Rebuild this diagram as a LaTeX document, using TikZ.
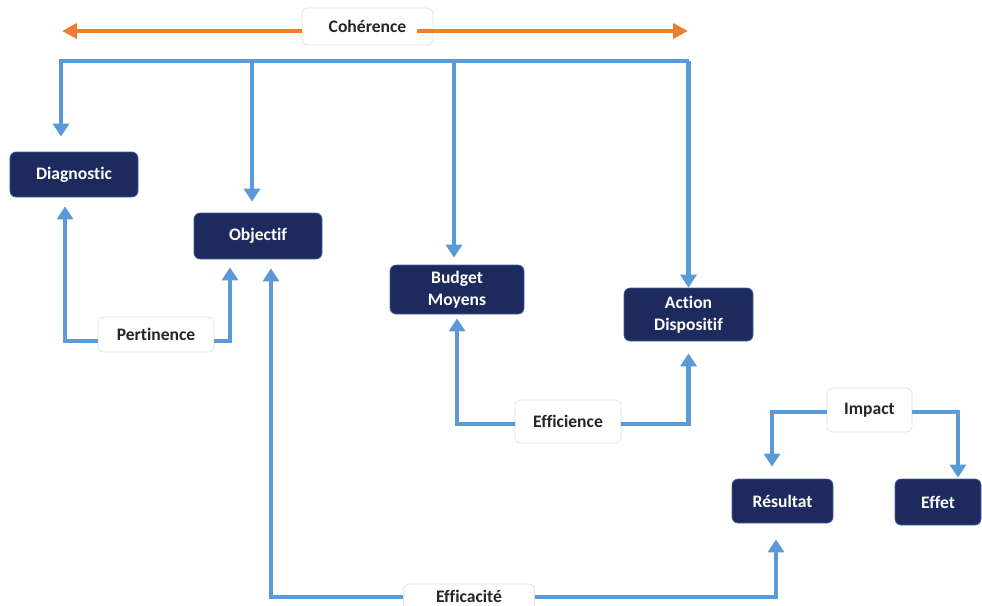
\documentclass[tikz,border=0pt]{standalone}
\usepackage{fontspec}
\setmainfont{Carlito}[Ligatures=NoCommon]
\usetikzlibrary{arrows.meta}

\definecolor{navy}{RGB}{28,42,94}
\definecolor{navyedge}{RGB}{70,100,160}
\definecolor{flowblue}{RGB}{91,155,213}
\definecolor{cohorange}{RGB}{237,125,49}

\begin{document}
\begin{tikzpicture}[x=0.03cm,y=-0.03cm,
  stage/.style={rounded corners=0.18cm, fill=navy, draw=navyedge, line width=0.6pt,
    text=white, font=\bfseries\fontsize{15}{18.5}\selectfont, align=center, inner sep=0pt},
  tag/.style={rounded corners=0.18cm, fill=white, draw=black!12, line width=0.6pt,
    text=black!85, font=\bfseries\fontsize{15}{18.5}\selectfont, inner sep=0pt},
  flow/.style={draw=flowblue, line width=0.135cm, >={Triangle[width=0.48cm,length=0.39cm]}},
  scope arrow/.style={draw=cohorange, line width=0.14cm, >={Triangle[width=0.45cm,length=0.45cm]}}
]
\useasboundingbox (0,0) rectangle (982,605);

% stages
\node[stage, minimum width=3.84cm, minimum height=1.35cm] (diag) at (74,174.5) {Diagnostic};
\node[stage, minimum width=3.84cm, minimum height=1.38cm] (obj)  at (258,236) {Objectif};
\node[stage, minimum width=4.02cm, minimum height=1.47cm] (bud)  at (457,289.5) {Budget\\Moyens};
\node[stage, minimum width=3.87cm, minimum height=1.59cm] (act)  at (688.5,314.5) {Action\\Dispositif};
\node[stage, minimum width=3.03cm, minimum height=1.32cm] (res)  at (782.5,501) {Résultat};
\node[stage, minimum width=2.58cm, minimum height=1.38cm] (eff)  at (938,502) {Effet};

% criteria labels
\node[tag, minimum width=3.93cm, minimum height=1.11cm] (coh)  at (367.5,26.5) {Cohérence};
\node[tag, minimum width=3.48cm, minimum height=1.05cm] (pert) at (156,334.5) {Pertinence};
\node[tag, minimum width=3.18cm, minimum height=1.29cm] (effi) at (568,421.5) {Efficience};
\node[tag, minimum width=2.55cm, minimum height=1.32cm] (imp)  at (869.5,410) {Impact};
\node[tag, minimum width=3.93cm, minimum height=1.14cm, text depth=0.4cm] (effc) at (469,603) {Efficacité};

% anchor points of the connectors
\coordinate (cohL) at (62,31);
\coordinate (cohR) at (688,31);
\coordinate (busL) at (61,61);
\coordinate (objTop) at ([xshift=-0.18cm]obj.north);
\coordinate (budTop) at ([xshift=-0.09cm]bud.north);
\coordinate (actTop) at (act.north);
\coordinate (diagBot) at ([xshift=-0.27cm]diag.south);
\coordinate (objBotL) at ([xshift=-0.84cm]obj.south);
\coordinate (objBotR) at ([xshift=0.39cm]obj.south);
\coordinate (budBot) at (bud.south);
\coordinate (actBot) at (act.south);
\coordinate (resTop) at ([xshift=-0.315cm]res.north);
\coordinate (resBot) at ([xshift=-0.195cm]res.south);
\coordinate (effTop) at ([xshift=0.6cm]eff.north);

% coherence: double arrow across the top
\draw[scope arrow,->] (cohL -| coh.west) -- (cohL);
\draw[scope arrow,->] ([xshift=-0.5cm]cohR -| coh.east) -- (cohR);

% coherence bus feeding the four upper stages
\draw[flow,->,shorten >=0.45cm] (actTop |- busL) -- (busL) -- (diag.north -| busL);
\draw[flow,->] (actTop |- busL) -- (actTop);
\draw[flow,->,shorten >=0.33cm] (objTop |- busL) -- (objTop);
\draw[flow,->,shorten >=0.21cm] (budTop |- busL) -- (budTop);

% pertinence
\draw[flow,->,shorten >=0.27cm] ([yshift=-0.195cm]pert.west) -| (diagBot);
\draw[flow,->,shorten >=0.24cm] ([yshift=-0.195cm]pert.east) -| (objBotL);

% efficience
\draw[flow,->,shorten >=0.12cm] ([yshift=-0.075cm]effi.west) -| (budBot);
\draw[flow,->,shorten >=0.36cm] ([yshift=-0.075cm]effi.east) -| (actBot);

% impact
\draw[flow,->,shorten >=0.36cm] ([yshift=-0.06cm]imp.west) -| (resTop);
\draw[flow,->,shorten >=0.03cm] ([yshift=-0.06cm]imp.east) -| (effTop);

% efficacite
\draw[flow,->,shorten >=0.27cm] ([yshift=0.18cm]effc.west) -| (objBotR);
\draw[flow,->,shorten >=0.48cm] ([yshift=0.18cm]effc.east) -| (resBot);
\end{tikzpicture}
\end{document}
